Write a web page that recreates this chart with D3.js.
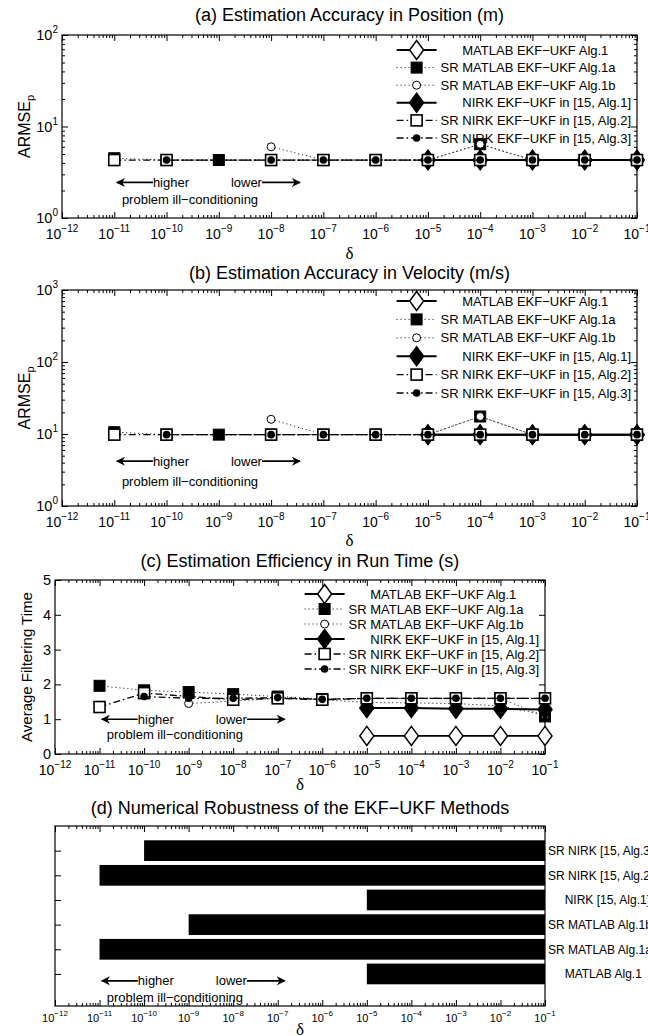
<!DOCTYPE html>
<html>
<head>
<meta charset="utf-8">
<script src="https://cdn.jsdelivr.net/npm/d3@7"></script>
<style>
body { margin: 0; background: #fff; }
svg { display: block; font-family: "Liberation Sans", Arial, Helvetica, sans-serif; }
</style>
</head>
<body>
<div id="plot"></div>
<script>
// Width and height
const W = 648;
const H = 1036;

// ---- data ----
// delta = 10^e for these exponents
const exps = [-11, -10, -9, -8, -7, -6, -5, -4, -3, -2, -1];

const seriesKeys = ["alg1", "alg1a", "alg1b", "nirk1", "alg2", "alg3"];
const legendLabels = [
  "      MATLAB EKF\u2212UKF Alg.1",
  "SR MATLAB EKF\u2212UKF Alg.1a",
  "SR MATLAB EKF\u2212UKF Alg.1b",
  "      NIRK EKF\u2212UKF in [15, Alg.1]",
  "SR NIRK EKF\u2212UKF in [15, Alg.2]",
  "SR NIRK EKF\u2212UKF in [15, Alg.3]"
];

// (a) ARMSE position
const posAlg1  = [null, null, null, null, null, null, 4.3, 4.3, 4.3, 4.3, 4.3];
const posAlg1a = [4.5, 4.3, 4.3, 4.3, 4.3, 4.3, 4.3, 6.4, 4.3, 4.3, 4.3];
const posAlg1b = [null, null, null, 6.0, 4.3, 4.3, 4.3, 6.4, 4.3, 4.3, 4.3];
const posNirk1 = [null, null, null, null, null, null, 4.3, 4.3, 4.3, 4.3, 4.3];
const posAlg2  = [4.3, 4.3, null, 4.3, 4.3, 4.3, 4.3, 4.3, 4.3, 4.3, 4.3];
const posAlg3  = [null, 4.3, null, 4.3, 4.3, 4.3, 4.3, 4.3, 4.3, 4.3, 4.3];

// (b) ARMSE velocity
const velAlg1  = [null, null, null, null, null, null, 9.8, 9.8, 9.8, 9.8, 9.8];
const velAlg1a = [10.6, 9.8, 9.8, 9.8, 9.8, 9.8, 9.8, 17.5, 9.8, 9.8, 9.8];
const velAlg1b = [null, null, null, 16, 9.8, 9.8, 9.8, 17.5, 9.8, 9.8, 9.8];
const velNirk1 = [null, null, null, null, null, null, 9.8, 9.8, 9.8, 9.8, 9.8];
const velAlg2  = [9.8, 9.8, null, 9.8, 9.8, 9.8, 9.8, 9.8, 9.8, 9.8, 9.8];
const velAlg3  = [null, 9.8, null, 9.8, 9.8, 9.8, 9.8, 9.8, 9.8, 9.8, 9.8];

// (c) average filtering time (s)
const timeAlg1  = [null, null, null, null, null, null, 0.52, 0.52, 0.52, 0.52, 0.52];
const timeAlg1a = [1.96, 1.83, 1.78, 1.72, 1.65, 1.58, 1.6, 1.6, 1.6, 1.6, 1.08];
const timeAlg1b = [null, null, 1.45, 1.52, 1.6, 1.56, 1.48, 1.47, 1.45, 1.38, 1.12];
const timeNirk1 = [null, null, null, null, null, null, 1.32, 1.32, 1.3, 1.3, 1.28];
const timeAlg2  = [1.35, 1.75, null, 1.56, 1.6, 1.56, 1.6, 1.6, 1.6, 1.6, 1.6];
const timeAlg3  = [null, 1.65, 1.6, 1.6, 1.62, 1.57, 1.6, 1.6, 1.6, 1.6, 1.6];

// (d) smallest delta (exponent) each method survives, bottom to top
const robustLabels = ["     MATLAB Alg.1", "SR MATLAB Alg.1a", "SR MATLAB Alg.1b",
                      "     NIRK [15, Alg.1]", "SR NIRK [15, Alg.2]", "SR NIRK [15, Alg.3]"];
const robustFrom = [-5, -11, -9, -5, -11, -10];
const robustTo = -1;

// ---- styles ----
const styles = {
  alg1:  {dash: null, w: 1.8, marker: "diamond", fill: "#fff"},
  alg1a: {dash: "1,3", w: 1, marker: "square", fill: "#000"},
  alg1b: {dash: "1,3", w: 1, marker: "circle", fill: "#fff"},
  nirk1: {dash: null, w: 2, marker: "diamond", fill: "#000"},
  alg2:  {dash: "7,3,1.5,3", w: 1.3, marker: "square", fill: "#fff"},
  alg3:  {dash: "7,3,1.5,3", w: 1.3, marker: "dot", fill: "#000"}
};

const svg = d3.select("div#plot")
  .append("svg")
    .attr("width", W)
    .attr("height", H);

svg.append("rect").attr("width", W).attr("height", H).attr("fill", "#fff");

svg.append("defs").append("marker")
  .attr("id", "arrow")
  .attr("viewBox", "0 0 10 10")
  .attr("refX", 9).attr("refY", 5)
  .attr("markerWidth", 12).attr("markerHeight", 9)
  .attr("markerUnits", "userSpaceOnUse")
  .attr("orient", "auto")
  .append("path")
    .attr("d", "M0,0 L10,5 L0,10 L3,5 Z")
    .attr("fill", "#000");

function drawMarker(g, type, fill, cx, cy) {
  if (type === "diamond") {
    g.append("path")
      .attr("d", `M${cx},${cy - 9.5}L${cx + 7},${cy}L${cx},${cy + 9.5}L${cx - 7},${cy}Z`)
      .attr("fill", fill).attr("stroke", "#000").attr("stroke-width", 1.5);
  } else if (type === "square") {
    g.append("rect")
      .attr("x", cx - 5.5).attr("y", cy - 5.5).attr("width", 11).attr("height", 11)
      .attr("fill", fill).attr("stroke", "#000").attr("stroke-width", fill === "#fff" ? 1.6 : 1);
  } else if (type === "circle") {
    g.append("circle").attr("cx", cx).attr("cy", cy).attr("r", 4)
      .attr("fill", fill).attr("stroke", "#000").attr("stroke-width", 1);
  } else {
    g.append("circle").attr("cx", cx).attr("cy", cy).attr("r", 3.8).attr("fill", "#000");
  }
}

// log delta axis, ticks inward on bottom and top
function deltaAxis(g, p, fs) {
  const x = p.x;
  const major = d3.range(-12, 0).map(e => 10 ** e);
  const minor = [];
  d3.range(-12, -1).forEach(e => d3.range(2, 10).forEach(k => minor.push(k * 10 ** e)));
  const clean = s => s.call(a => a.select(".domain").remove())
                      .call(a => a.selectAll("line").attr("stroke", "#000"));
  g.append("g").attr("transform", `translate(0,${p.y1})`)
    .call(d3.axisBottom(x).tickValues(major).tickSize(-6).tickFormat("")).call(clean);
  g.append("g").attr("transform", `translate(0,${p.y1})`)
    .call(d3.axisBottom(x).tickValues(minor).tickSize(-3).tickFormat("")).call(clean);
  g.append("g").attr("transform", `translate(0,${p.y0})`)
    .call(d3.axisTop(x).tickValues(major).tickSize(-6).tickFormat("")).call(clean);
  g.append("g").attr("transform", `translate(0,${p.y0})`)
    .call(d3.axisTop(x).tickValues(minor).tickSize(-3).tickFormat("")).call(clean);

  g.selectAll("text.xt")
    .data(d3.range(-12, 0))
    .join("text")
      .attr("class", "xt")
      .attr("x", e => x(10 ** e))
      .attr("y", p.y1 + fs.pad)
      .attr("text-anchor", "middle")
      .attr("font-size", fs.base)
      .each(function(e) {
        const t = d3.select(this);
        t.append("tspan").text("10");
        t.append("tspan").attr("dy", -fs.rise).attr("font-size", fs.sup).text("\u2212" + (-e));
      });

  g.append("text")
    .attr("x", (p.x0 + p.x1) / 2)
    .attr("y", p.deltaY)
    .attr("text-anchor", "middle")
    .attr("font-family", "'Liberation Serif', 'DejaVu Serif', serif")
    .attr("font-size", 17)
    .text("\u03b4");
}

function frame(g, p) {
  g.append("rect")
    .attr("x", p.x0).attr("y", p.y0)
    .attr("width", p.x1 - p.x0).attr("height", p.y1 - p.y0)
    .attr("fill", "none").attr("stroke", "#000").attr("stroke-width", 1.2);
}

function title(g, p, txt) {
  g.append("text")
    .attr("x", (p.x0 + p.x1) / 2)
    .attr("y", p.titleY)
    .attr("text-anchor", "middle")
    .attr("font-size", 18)
    .text(txt);
}

// "<- higher   lower ->" and "problem ill-conditioning"
function conditioning(g, p, yArrow, yText) {
  const tip = p.x(10 ** -10.95);
  g.append("line")
    .attr("x1", tip + 36).attr("x2", tip).attr("y1", yArrow).attr("y2", yArrow)
    .attr("stroke", "#000").attr("stroke-width", 1.6).attr("marker-end", "url(#arrow)");
  g.append("text").attr("x", tip + 36).attr("y", yArrow + 4.5)
    .attr("font-size", 13).text("higher");
  const low = g.append("text").attr("x", tip + 114).attr("y", yArrow + 4.5)
    .attr("font-size", 13).text("lower");
  const lowEnd = tip + 114 + low.node().getComputedTextLength();
  g.append("line")
    .attr("x1", lowEnd).attr("x2", lowEnd + 38).attr("y1", yArrow).attr("y2", yArrow)
    .attr("stroke", "#000").attr("stroke-width", 1.6).attr("marker-end", "url(#arrow)");
  g.append("text").attr("x", tip + 5).attr("y", yText + 4.5)
    .attr("font-size", 13).text("problem ill\u2212conditioning");
}

function legend(g, p, top, step) {
  const rows = g.append("g");
  const texts = [];
  seriesKeys.forEach((k, i) => {
    texts.push(rows.append("text")
      .attr("y", top + i * step + 4.5)
      .attr("font-size", 13)
      .attr("xml:space", "preserve")
      .style("white-space", "pre")
      .text(legendLabels[i]));
  });
  const maxW = d3.max(texts, t => t.node().getComputedTextLength());
  const tx = p.x1 - 6 - maxW;
  const lx = tx - 44;
  texts.forEach(t => t.attr("x", tx));
  seriesKeys.forEach((k, i) => {
    const s = styles[k];
    const yy = top + i * step;
    rows.append("line")
      .attr("x1", lx).attr("x2", lx + 40).attr("y1", yy).attr("y2", yy)
      .attr("stroke", "#000").attr("stroke-width", s.w)
      .attr("stroke-dasharray", s.dash);
    drawMarker(rows, s.marker, s.fill, lx + 20, yy);
  });
}

function seriesPanel(p, data, cfg) {
  const g = svg.append("g");
  title(g, p, cfg.title);
  const y = p.y;

  // y axis ticks (left and right, inward)
  const clean = s => s.call(a => a.select(".domain").remove())
                      .call(a => a.selectAll("line").attr("stroke", "#000"))
                      .call(a => a.selectAll("text").remove());
  g.append("g").attr("transform", `translate(${p.x0},0)`)
    .call(d3.axisLeft(y).tickValues(cfg.yMajor).tickSize(-6)).call(clean);
  g.append("g").attr("transform", `translate(${p.x1},0)`)
    .call(d3.axisRight(y).tickValues(cfg.yMajor).tickSize(-6)).call(clean);
  if (cfg.yMinor.length) {
    g.append("g").attr("transform", `translate(${p.x0},0)`)
      .call(d3.axisLeft(y).tickValues(cfg.yMinor).tickSize(-3)).call(clean);
    g.append("g").attr("transform", `translate(${p.x1},0)`)
      .call(d3.axisRight(y).tickValues(cfg.yMinor).tickSize(-3)).call(clean);
  }

  // y tick labels
  g.selectAll("text.yt")
    .data(cfg.yMajor)
    .join("text")
      .attr("class", "yt")
      .attr("x", p.x0 - 4)
      .attr("y", v => y(v) + 5)
      .attr("text-anchor", "end")
      .attr("font-size", 14.5)
      .each(function(v) {
        const t = d3.select(this);
        if (cfg.log) {
          t.append("tspan").text("10");
          t.append("tspan").attr("dy", -7).attr("font-size", 10).text(Math.round(Math.log10(v)));
        } else {
          t.text(v);
        }
      });

  // y label
  const yl = g.append("text")
    .attr("transform", `translate(${cfg.ylabX},${(p.y0 + p.y1) / 2}) rotate(-90)`)
    .attr("text-anchor", "middle")
    .attr("font-size", cfg.ylabSub ? 16 : 15);
  if (cfg.ylabSub) {
    yl.append("tspan").text(cfg.ylab);
    yl.append("tspan").attr("dy", 4).attr("font-size", 11).text(cfg.ylabSub);
  } else {
    yl.text(cfg.ylab);
  }

  deltaAxis(g, p, cfg.xfs);
  frame(g, p);
  conditioning(g, p, y(cfg.arrowV), y(cfg.textV));
  legend(g, p, p.y0 + cfg.legTop, cfg.legStep);

  // series: line then markers, in plotting order
  const line = d3.line().x(d => p.x(10 ** d.e)).y(d => y(d.v));
  seriesKeys.forEach((k, i) => {
    const s = styles[k];
    const pts = exps.map((e, j) => ({e: e, v: data[i][j]})).filter(d => d.v != null);
    const sg = g.append("g");
    sg.append("path")
      .attr("d", line(pts))
      .attr("fill", "none")
      .attr("stroke", "#000")
      .attr("stroke-width", s.w)
      .attr("stroke-dasharray", s.dash);
    pts.forEach(d => drawMarker(sg, s.marker, s.fill, p.x(10 ** d.e), y(d.v)));
  });
}

// ---- panels ----
function makePanel(x0, x1, y0, y1, yScale, titleY, deltaY) {
  return {
    x0, x1, y0, y1, titleY, deltaY,
    x: d3.scaleLog().domain([1e-12, 1e-1]).range([x0, x1]),
    y: yScale.range([y1, y0])
  };
}

const xfsBig = {base: 14, sup: 10, rise: 7, pad: 21};

const pA = makePanel(62, 637, 35, 218, d3.scaleLog().domain([1, 100]), 21, 259);
seriesPanel(pA, [posAlg1, posAlg1a, posAlg1b, posNirk1, posAlg2, posAlg3], {
  title: "(a) Estimation Accuracy in Position (m)",
  log: true, yMajor: [1, 10, 100],
  yMinor: d3.range(0, 2).flatMap(e => d3.range(2, 10).map(k => k * 10 ** e)),
  ylab: "ARMSE", ylabSub: "p", ylabX: 30,
  xfs: xfsBig, arrowV: 2.45, textV: 1.6, legTop: 15, legStep: 17.6
});

const pB = makePanel(62, 637, 290, 506, d3.scaleLog().domain([1, 1000]), 279, 546);
seriesPanel(pB, [velAlg1, velAlg1a, velAlg1b, velNirk1, velAlg2, velAlg3], {
  title: "(b) Estimation Accuracy in Velocity (m/s)",
  log: true, yMajor: [1, 10, 100, 1000],
  yMinor: d3.range(0, 3).flatMap(e => d3.range(2, 10).map(k => k * 10 ** e)),
  ylab: "ARMSE", ylabSub: "p", ylabX: 30,
  xfs: xfsBig, arrowV: 4.2, textV: 2.2, legTop: 11, legStep: 18.4
});

const pC = makePanel(55, 545, 580, 754, d3.scaleLinear().domain([0, 5]), 567, 790);
seriesPanel(pC, [timeAlg1, timeAlg1a, timeAlg1b, timeNirk1, timeAlg2, timeAlg3], {
  title: "(c) Estimation Efficiency in Run Time (s)",
  log: false, yMajor: [0, 1, 2, 3, 4, 5], yMinor: [],
  ylab: "Average Filtering Time", ylabSub: null, ylabX: 32,
  xfs: xfsBig, arrowV: 1.0, textV: 0.55, legTop: 14, legStep: 15
});

// (d) robustness bars
const pD = makePanel(55, 545, 826, 1006, d3.scaleLinear().domain([-0.3, 7]), 814, 1035);
{
  const g = svg.append("g");
  title(g, pD, "(d) Numerical Robustness of the EKF\u2212UKF Methods");
  const y = pD.y;
  const pos = robustLabels.map((d, i) => i + 1);
  const bh = y(0) - y(0.84);

  g.selectAll("rect.bar")
    .data(robustFrom)
    .join("rect")
      .attr("class", "bar")
      .attr("x", d => pD.x(10 ** d))
      .attr("y", (d, i) => y(pos[i]) - bh / 2)
      .attr("width", d => pD.x(10 ** robustTo) - pD.x(10 ** d))
      .attr("height", bh)
      .attr("fill", "#000");

  g.append("g").attr("transform", `translate(${pD.x0},0)`)
    .call(d3.axisLeft(y).tickValues(pos).tickSize(-6).tickFormat(""))
    .call(a => a.select(".domain").remove())
    .call(a => a.selectAll("line").attr("stroke", "#000"));

  g.selectAll("text.rl")
    .data(robustLabels)
    .join("text")
      .attr("class", "rl")
      .attr("x", pD.x1 + 3)
      .attr("y", (d, i) => y(pos[i]) + 4.5)
      .attr("font-size", 12)
      .attr("xml:space", "preserve")
      .style("white-space", "pre")
      .text(d => d);

  deltaAxis(g, pD, {base: 11, sup: 8, rise: 6, pad: 16});
  frame(g, pD);
  conditioning(g, pD, y(0.72), y(0.06));
}
</script>
</body>
</html>
